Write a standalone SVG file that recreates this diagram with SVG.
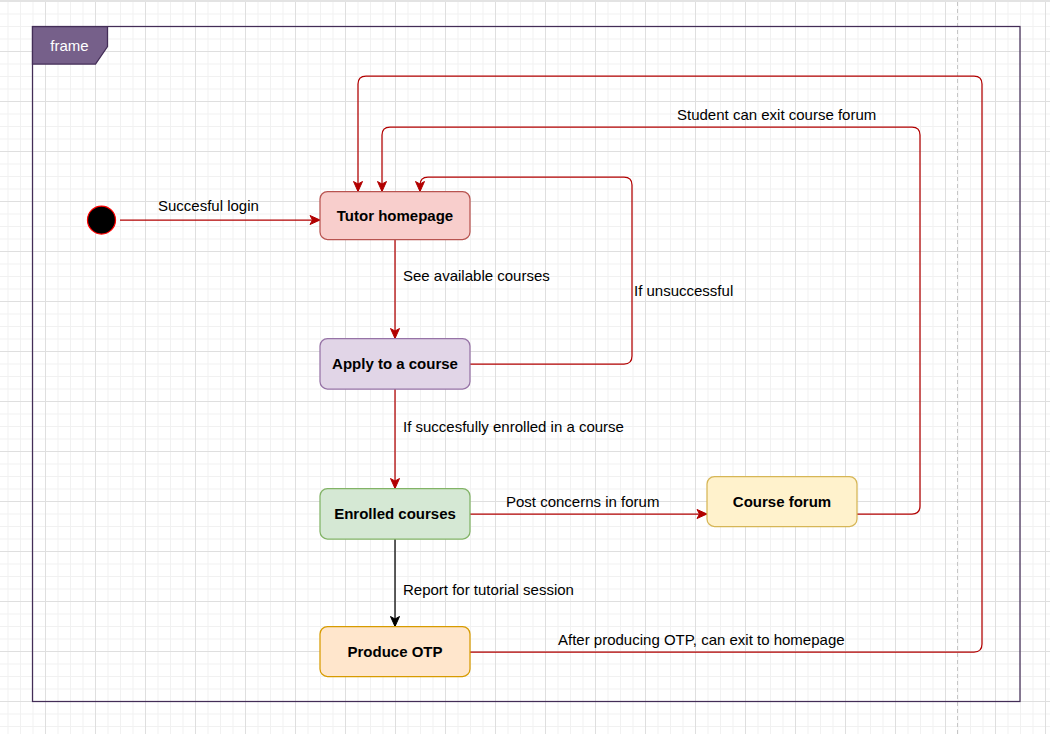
<svg xmlns="http://www.w3.org/2000/svg" width="1050" height="734" viewBox="0 0 1050 734">
  <defs>
    <!-- canvas grid: minor lines every 12.5px, major every 50px -->
    <pattern id="grid" patternUnits="userSpaceOnUse" x="45" y="1" width="50" height="50">
      <g stroke="#f1f1f1" stroke-width="1">
        <line x1="13" y1="0" x2="13" y2="50"/>
        <line x1="25.5" y1="0" x2="25.5" y2="50"/>
        <line x1="38" y1="0" x2="38" y2="50"/>
        <line x1="0" y1="13" x2="50" y2="13"/>
        <line x1="0" y1="25.5" x2="50" y2="25.5"/>
        <line x1="0" y1="38" x2="50" y2="38"/>
      </g>
      <g stroke="#dfdfdf" stroke-width="1">
        <line x1="0.5" y1="0" x2="0.5" y2="50"/>
        <line x1="0" y1="0.5" x2="50" y2="0.5"/>
      </g>
    </pattern>
    <marker id="arrowRed" markerUnits="userSpaceOnUse" markerWidth="12" markerHeight="12" viewBox="0 0 12 12" refX="11" refY="6" orient="auto">
      <path d="M1,1.5 L11,6 L1,10.5 L3.5,6 Z" fill="#b20000" stroke="#b20000" stroke-width="1"/>
    </marker>
    <marker id="arrowBlack" markerUnits="userSpaceOnUse" markerWidth="12" markerHeight="12" viewBox="0 0 12 12" refX="11" refY="6" orient="auto">
      <path d="M1,1.5 L11,6 L1,10.5 L3.5,6 Z" fill="#000000" stroke="#000000" stroke-width="1"/>
    </marker>
    <style>
      .node rect { stroke-width: 1.25; }
      .label { font-family: "Liberation Sans", Arial, Helvetica, sans-serif; font-size: 15px; fill: #000000; }
      .nodeText { font-family: "Liberation Sans", Arial, Helvetica, sans-serif; font-size: 15px; font-weight: bold; fill: #000000; text-anchor: middle; }
      .edge { fill: none; stroke: #b20000; stroke-width: 1.25; marker-end: url(#arrowRed); }
      .edge.black { stroke: #000000; marker-end: url(#arrowBlack); }
    </style>
  </defs>

  <!-- background and grid -->
  <rect x="0" y="0" width="1050" height="734" fill="#ffffff"/>
  <rect x="0" y="0" width="1050" height="734" fill="url(#grid)"/>
  <rect x="0" y="0" width="1050" height="2" fill="#e3e3e3"/>
  <!-- page break -->
  <line x1="957.5" y1="2" x2="957.5" y2="734" stroke="#c6c6c6" stroke-width="1" stroke-dasharray="4 3"/>

  <!-- frame -->
  <g id="frame">
    <rect x="32.5" y="26.5" width="987.5" height="675" fill="none" stroke="#432d57" stroke-width="1.25"/>
    <polygon points="32.5,26.5 107.5,26.5 107.5,46.5 95.5,64 32.5,64" fill="#76608a" stroke="#432d57" stroke-width="1.25"/>
    <text x="69.5" y="51" font-family="Liberation Sans, Arial, sans-serif" font-size="15" fill="#ffffff" text-anchor="middle">frame</text>
  </g>

  <!-- connectors -->
  <g id="connectors">
    <path class="edge" d="M120,220 H320"/>
    <path class="edge" d="M395,239.5 V338.5"/>
    <path class="edge" d="M395,389 V488.5"/>
    <path class="edge black" d="M395,539 V626.5"/>
    <path class="edge" d="M470,514 H707"/>
    <path class="edge" d="M470,364 H624 Q632,364 632,356 V185 Q632,177 624,177 H428 Q420,177 420,185 V191.5"/>
    <path class="edge" d="M857,514 H912 Q920,514 920,506 V135 Q920,127 912,127 H390 Q382,127 382,135 V191.5"/>
    <path class="edge" d="M470,652 H974 Q982,652 982,644 V84 Q982,76 974,76 H366 Q358,76 358,84 V191.5"/>

    <text class="label" x="158" y="211">Succesful login</text>
    <text class="label" x="403" y="281">See available courses</text>
    <text class="label" x="634" y="296">If unsuccessful</text>
    <text class="label" x="403" y="432">If succesfully enrolled in a course</text>
    <text class="label" x="506" y="507">Post concerns in forum</text>
    <text class="label" x="677" y="120">Student can exit course forum</text>
    <text class="label" x="403" y="595">Report for tutorial session</text>
    <text class="label" x="558" y="645">After producing OTP, can exit to homepage</text>
  </g>

  <!-- states -->
  <g id="start">
    <circle cx="101.5" cy="220" r="14" fill="#000000" stroke="#ff0000" stroke-width="1.25"/>
  </g>
  <g id="tutor-homepage" class="node">
    <rect x="320" y="191.5" width="150" height="48" rx="7.5" fill="#f8cecc" stroke="#b85450"/>
    <text class="nodeText" x="395" y="221">Tutor homepage</text>
  </g>
  <g id="apply-course" class="node">
    <rect x="320" y="338.5" width="150" height="50.5" rx="7.5" fill="#e1d5e7" stroke="#9673a6"/>
    <text class="nodeText" x="395" y="369">Apply to a course</text>
  </g>
  <g id="enrolled-courses" class="node">
    <rect x="320" y="488.5" width="150" height="50.5" rx="7.5" fill="#d5e8d4" stroke="#82b366"/>
    <text class="nodeText" x="395" y="519">Enrolled courses</text>
  </g>
  <g id="course-forum" class="node">
    <rect x="707" y="476.5" width="150" height="50" rx="7.5" fill="#fff2cc" stroke="#d6b656"/>
    <text class="nodeText" x="782" y="507">Course forum</text>
  </g>
  <g id="produce-otp" class="node">
    <rect x="320" y="626.5" width="150" height="50" rx="7.5" fill="#ffe6cc" stroke="#d79b00"/>
    <text class="nodeText" x="395" y="657">Produce OTP</text>
  </g>
</svg>
